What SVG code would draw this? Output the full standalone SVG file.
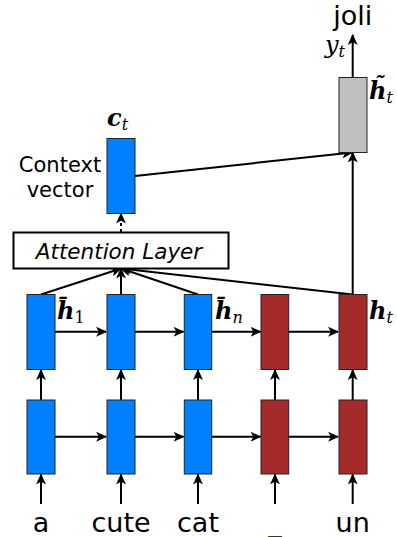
<svg xmlns="http://www.w3.org/2000/svg" width="397" height="537" viewBox="0 0 397 537">
<style>
.blue{fill:#0080ff;stroke:#222;stroke-width:1}
.red{fill:#a52a2a;stroke:#222;stroke-width:1}
.gray{fill:#bfbfbf;stroke:#222;stroke-width:1}
.lbl{font-family:"DejaVu Sans",sans-serif;fill:#000}
.math{font-family:"DejaVu Serif",serif;font-style:italic;fill:#000}
.bold{font-weight:bold}
.conn line{stroke:#000;stroke-width:2;fill:none}
</style>
<defs>
<marker id="arr" viewBox="0 0 10 10" refX="9" refY="5" markerWidth="5.5" markerHeight="5.5" orient="auto" markerUnits="strokeWidth">
<path d="M0,0.5 L10,5 L0,9.5 L2.5,5 Z" fill="#000"/>
</marker>
</defs>
<g id="connectors" class="conn">
<line x1="55" y1="331.7" x2="106" y2="331.7" marker-end="url(#arr)"/>
<line x1="135" y1="331.7" x2="183.5" y2="331.7" marker-end="url(#arr)"/>
<line x1="211.7" y1="331.7" x2="260.5" y2="331.7" marker-end="url(#arr)"/>
<line x1="288.7" y1="331.7" x2="338" y2="331.7" marker-end="url(#arr)"/>
<line x1="55" y1="436.7" x2="106" y2="436.7" marker-end="url(#arr)"/>
<line x1="135" y1="436.7" x2="183.5" y2="436.7" marker-end="url(#arr)"/>
<line x1="211.7" y1="436.7" x2="260.5" y2="436.7" marker-end="url(#arr)"/>
<line x1="288.7" y1="436.7" x2="338" y2="436.7" marker-end="url(#arr)"/>
<line x1="41" y1="400" x2="41" y2="370" marker-end="url(#arr)"/>
<line x1="121" y1="400" x2="121" y2="370" marker-end="url(#arr)"/>
<line x1="198" y1="400" x2="198" y2="370" marker-end="url(#arr)"/>
<line x1="275" y1="400" x2="275" y2="370" marker-end="url(#arr)"/>
<line x1="352.7" y1="400" x2="352.7" y2="370" marker-end="url(#arr)"/>
<line x1="41" y1="504" x2="41" y2="474.5" marker-end="url(#arr)"/>
<line x1="121" y1="504" x2="121" y2="474.5" marker-end="url(#arr)"/>
<line x1="198" y1="504" x2="198" y2="474.5" marker-end="url(#arr)"/>
<line x1="275" y1="504" x2="275" y2="474.5" marker-end="url(#arr)"/>
<line x1="352.7" y1="504" x2="352.7" y2="474.5" marker-end="url(#arr)"/>
<line x1="41" y1="294.5" x2="121" y2="268.5" marker-end="url(#arr)"/>
<line x1="121" y1="294.5" x2="121" y2="268.5" marker-end="url(#arr)"/>
<line x1="198" y1="294.5" x2="121" y2="268.5" marker-end="url(#arr)"/>
<line x1="352.7" y1="294.5" x2="121" y2="268.5" marker-end="url(#arr)"/>
<line x1="352.7" y1="294.5" x2="352.7" y2="152.5" marker-end="url(#arr)"/>
<line x1="135" y1="176" x2="352" y2="152.5" marker-end="url(#arr)"/>
<line x1="352.7" y1="77.3" x2="352.7" y2="35" marker-end="url(#arr)"/>
<line x1="121" y1="232" x2="121" y2="213.5" stroke-dasharray="3,3" marker-end="url(#arr)"/>
</g>
<g id="attention">
<rect x="13.5" y="232.5" width="215" height="36" fill="#fff" stroke="#000" stroke-width="2"/>
<text class="lbl" x="119" y="258.5" font-size="21.5" font-style="italic" text-anchor="middle">Attention Layer</text>
</g>
<g id="context">
<rect class="blue" x="107" y="138.5" width="28" height="75"/>
<text class="math bold" x="107" y="126" font-size="24">c<tspan font-weight="normal" font-size="16" dy="4">t</tspan></text>
<text class="lbl" x="60" y="171.5" font-size="21" text-anchor="middle">Context</text>
<text class="lbl" x="60" y="196.5" font-size="21" text-anchor="middle">vector</text>
</g>
<g id="htilde">
<rect class="gray" x="339" y="77.5" width="28" height="75"/>
<text class="math bold" x="369" y="99" font-size="24">h<tspan font-size="22" dx="-13" dy="-7">˜</tspan><tspan font-weight="normal" font-size="16" dx="2" dy="11">t</tspan></text>
</g>
<g id="output">
<text class="lbl" x="352.7" y="25" font-size="27" text-anchor="middle">joli</text>
<text class="math" x="325" y="53" font-size="24" fill="#333">y<tspan font-size="16" dy="4">t</tspan></text>
</g>
<g id="enc1">
<rect class="blue" x="27" y="294.5" width="28" height="75"/>
<rect class="blue" x="27" y="400" width="28" height="74"/>
<text class="math bold" x="57" y="319" font-size="24">h̄<tspan font-weight="normal" font-style="normal" font-size="16" dy="4">1</tspan></text>
<text class="lbl" x="41" y="532" font-size="27" text-anchor="middle">a</text>
</g>
<g id="enc2">
<rect class="blue" x="107" y="294.5" width="28" height="75"/>
<rect class="blue" x="107" y="400" width="28" height="74"/>
<text class="lbl" x="121" y="532" font-size="27" text-anchor="middle">cute</text>
</g>
<g id="enc3">
<rect class="blue" x="184.3" y="294.5" width="27.4" height="75"/>
<rect class="blue" x="184.3" y="400" width="27.4" height="74"/>
<text class="math bold" x="215" y="319" font-size="24">h̄<tspan font-weight="normal" font-size="16" dy="4">n</tspan></text>
<text class="lbl" x="198" y="532" font-size="27" text-anchor="middle">cat</text>
</g>
<g id="dec1">
<rect class="red" x="261" y="294.5" width="27.7" height="75"/>
<rect class="red" x="261" y="400" width="27.7" height="74"/>
<text class="lbl" x="275" y="531.5" font-size="27" text-anchor="middle">_</text>
</g>
<g id="dec2">
<rect class="red" x="339" y="294.5" width="28" height="75"/>
<rect class="red" x="339" y="400" width="28" height="74"/>
<text class="math bold" x="369" y="319" font-size="24">h<tspan font-weight="normal" font-size="16" dy="4">t</tspan></text>
<text class="lbl" x="352.7" y="532" font-size="27" text-anchor="middle">un</text>
</g>
</svg>
